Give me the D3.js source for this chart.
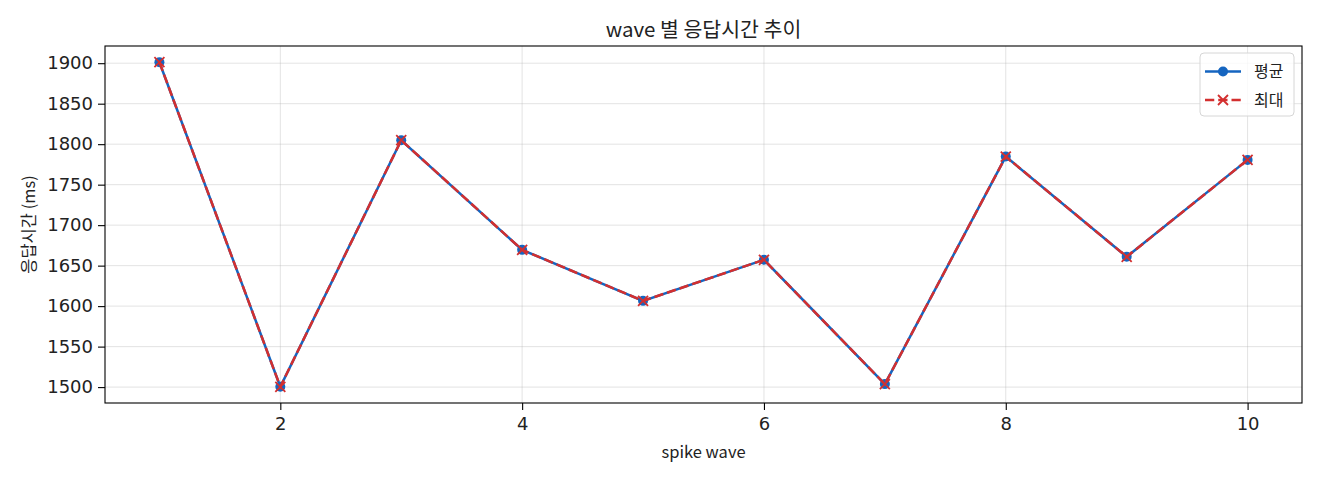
<!DOCTYPE html>
<html>
<head>
<meta charset="utf-8">
<script src="https://cdn.jsdelivr.net/npm/d3@7"></script>
<style>
  html, body { margin: 0; padding: 0; background: #fff; }
  svg text { font-family: "Noto Sans CJK KR", "Noto Sans", sans-serif; fill: #222; }
  svg .tick text { font-family: "DejaVu Sans", "Noto Sans CJK KR", sans-serif; }
</style>
</head>
<body>
<div id="chart"></div>
<script>
// wave 별 응답시간 (ms)
const waves = [1, 2, 3, 4, 5, 6, 7, 8, 9, 10];
const avgMs = [1901.2, 1500.4, 1804.9, 1669.5, 1606.5, 1657.2, 1503.7, 1784.7, 1660.9, 1780.6];
const maxMs = [1901.2, 1500.4, 1804.9, 1669.5, 1606.5, 1657.2, 1503.7, 1784.7, 1660.9, 1780.6];
const xTicks = [2, 4, 6, 8, 10];
const yTicks = [1500, 1550, 1600, 1650, 1700, 1750, 1800, 1850, 1900];

const W = 1320, H = 480;
const margin = { top: 46, right: 18, bottom: 77, left: 105 };
const w = W - margin.left - margin.right;
const h = H - margin.top - margin.bottom;

const blue = '#1565c0';
const red = '#d32f2f';

const svg = d3.select('#chart')
    .append('svg')
    .attr('width', W)
    .attr('height', H);

const g = svg.append('g')
    .attr('transform', `translate(${margin.left},${margin.top})`);

// matplotlib-style 5% padding
const xExt = d3.extent(waves);
const xPad = (xExt[1] - xExt[0]) * 0.05;
const x = d3.scaleLinear().domain([xExt[0] - xPad, xExt[1] + xPad]).range([0, w]);

const yExt = d3.extent(avgMs.concat(maxMs));
const yPad = (yExt[1] - yExt[0]) * 0.05;
const y = d3.scaleLinear().domain([yExt[0] - yPad, yExt[1] + yPad]).range([h, 0]);

// Grid
g.append('g')
    .selectAll('line')
    .data(xTicks)
    .enter()
    .append('line')
    .attr('x1', d => x(d)).attr('x2', d => x(d))
    .attr('y1', 0).attr('y2', h)
    .attr('stroke', '#b0b0b0').attr('stroke-opacity', 0.35).attr('stroke-width', 1);

g.append('g')
    .selectAll('line')
    .data(yTicks)
    .enter()
    .append('line')
    .attr('x1', 0).attr('x2', w)
    .attr('y1', d => y(d)).attr('y2', d => y(d))
    .attr('stroke', '#b0b0b0').attr('stroke-opacity', 0.35).attr('stroke-width', 1);

// Axes
const xAxis = g.append('g')
    .attr('transform', `translate(0,${h})`)
    .call(d3.axisBottom(x).tickValues(xTicks).tickSize(7).tickPadding(7).tickFormat(d3.format('d')));
const yAxis = g.append('g')
    .call(d3.axisLeft(y).tickValues(yTicks).tickSize(7).tickPadding(5).tickFormat(d3.format('d')));

[xAxis, yAxis].forEach(a => {
    a.select('.domain').remove();
    a.selectAll('line').attr('stroke', '#000').attr('stroke-width', 1.1);
    a.selectAll('text').attr('font-size', '18px').attr('fill', '#222');
});

// Frame
g.append('rect')
    .attr('x', 0).attr('y', 0).attr('width', w).attr('height', h)
    .attr('fill', 'none').attr('stroke', '#000').attr('stroke-width', 1.1);

const line = d3.line()
    .x((d, i) => x(waves[i]))
    .y(d => y(d));

// 평균
g.append('path')
    .datum(avgMs)
    .attr('d', line)
    .attr('fill', 'none')
    .attr('stroke', blue)
    .attr('stroke-width', 2.5);

g.append('g')
    .selectAll('circle')
    .data(avgMs)
    .enter()
    .append('circle')
    .attr('cx', (d, i) => x(waves[i]))
    .attr('cy', d => y(d))
    .attr('r', 5)
    .attr('fill', blue);

// 최대
g.append('path')
    .datum(maxMs)
    .attr('d', line)
    .attr('fill', 'none')
    .attr('stroke', red)
    .attr('stroke-width', 2.5)
    .attr('stroke-dasharray', '9.25,4');

const xMark = (cx, cy, s) => `M${cx - s},${cy - s}L${cx + s},${cy + s}M${cx - s},${cy + s}L${cx + s},${cy - s}`;

g.append('g')
    .selectAll('path')
    .data(maxMs)
    .enter()
    .append('path')
    .attr('d', (d, i) => xMark(x(waves[i]), y(d), 5))
    .attr('stroke', red)
    .attr('stroke-width', 1.8)
    .attr('fill', 'none');

// Legend
const legend = g.append('g')
    .attr('transform', `translate(${w - 102},7)`);

legend.append('rect')
    .attr('width', 94).attr('height', 63)
    .attr('rx', 4)
    .attr('fill', '#fff').attr('fill-opacity', 0.8)
    .attr('stroke', '#d6d6d6');

const legendItems = [
    { label: '평균', color: blue, dash: null, marker: 'circle' },
    { label: '최대', color: red, dash: '9.25,4', marker: 'x' }
];

const li = legend.selectAll('.legend-item')
    .data(legendItems)
    .enter()
    .append('g')
    .attr('class', 'legend-item')
    .attr('transform', (d, i) => `translate(5,${18.5 + i * 28.5})`);

li.append('line')
    .attr('x1', 0).attr('x2', 36)
    .attr('stroke', d => d.color)
    .attr('stroke-width', 2.5)
    .attr('stroke-dasharray', d => d.dash);

li.filter(d => d.marker === 'circle')
    .append('circle')
    .attr('cx', 18).attr('r', 5).attr('fill', d => d.color);

li.filter(d => d.marker === 'x')
    .append('path')
    .attr('d', xMark(18, 0, 5))
    .attr('stroke', d => d.color)
    .attr('stroke-width', 1.8);

li.append('text')
    .attr('x', 49)
    .attr('dy', '0.36em')
    .attr('font-size', '16px')
    .text(d => d.label);

// Titles
svg.append('text')
    .attr('x', margin.left + w / 2)
    .attr('y', 37)
    .attr('text-anchor', 'middle')
    .attr('font-size', '20.5px')
    .text('wave 별 응답시간 추이');

svg.append('text')
    .attr('x', margin.left + w / 2)
    .attr('y', 457.5)
    .attr('text-anchor', 'middle')
    .attr('font-size', '16.5px')
    .text('spike wave');

svg.append('text')
    .attr('transform', `translate(35,${margin.top + h / 2}) rotate(-90)`)
    .attr('text-anchor', 'middle')
    .attr('font-size', '16.5px')
    .text('응답시간 (ms)');
</script>
</body>
</html>
